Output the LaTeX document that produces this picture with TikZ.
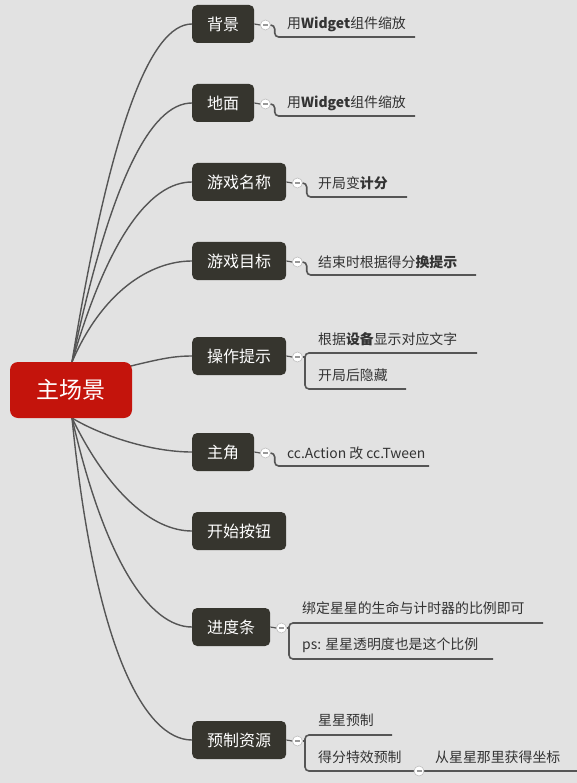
\documentclass[tikz,border=0pt]{standalone}
\usepackage{fontspec}
\setmainfont{Noto Sans CJK SC}
\usetikzlibrary{calc}
\definecolor{bgc}{HTML}{E2E2E2}
\definecolor{topicc}{HTML}{36352E}
\definecolor{rootc}{HTML}{C4140C}
\definecolor{linec}{HTML}{555555}
\definecolor{txtc}{HTML}{333333}
\tikzset{
  topicbox/.style={fill=topicc, text=white, rounded corners=5pt, minimum height=38pt,
    inner xsep=15pt, inner ysep=0pt, anchor=west, font=\fontsize{16}{16}\selectfont},
  rootbox/.style={fill=rootc, text=white, rounded corners=8pt, minimum width=122pt,
    minimum height=56pt, inner sep=0pt, font=\fontsize{23}{23}\selectfont},
  leaf/.style={anchor=west, inner sep=0pt, text=txtc, font=\fontsize{13.9}{14}\selectfont},
  foldc/.style={circle, fill=white, draw=gray!50, line width=0.6pt, minimum size=10pt, inner sep=0pt},
  conn/.style={draw=linec, line width=1.4pt},
  uline/.style={draw=linec, line width=1.6pt, rounded corners=4pt},
}
\begin{document}
\begin{tikzpicture}[x=1pt,y=-1pt]
\fill[bgc] (0,0) rectangle (577,783);
\useasboundingbox (0,0) rectangle (577,783);

% topics
\node[topicbox] (n1) at (192,24) {背景};
\node[topicbox] (n2) at (192,103) {地面};
\node[topicbox] (n3) at (192,182) {游戏名称};
\node[topicbox] (n4) at (192,261) {游戏目标};
\node[topicbox] (n5) at (192,356) {操作提示};
\node[topicbox] (n6) at (192,452) {主角};
\node[topicbox] (n7) at (192,531) {开始按钮};
\node[topicbox] (n8) at (192,627) {进度条};
\node[topicbox] (n9) at (192,740) {预制资源};

% main connectors (drawn behind root)
\coordinate (rt) at (72,362);
\coordinate (rb) at (72,418);
\begin{scope}[conn]
\draw (rt) .. controls (110,129) and (150,24) .. (n1.west);
\draw (rt) .. controls (110,183) and (150,103) .. (n2.west);
\draw (rt) .. controls (108,238) and (150,182) .. (n3.west);
\draw (rt) .. controls (102,292) and (150,261) .. (n4.west);
\draw (72,380) .. controls (150,362) and (165,356) .. (n5.west);
\draw (rb) .. controls (100,435) and (150,452) .. (n6.west);
\draw (rb) .. controls (108,492) and (152,531) .. (n7.west);
\draw (rb) .. controls (105,562) and (150,627) .. (n8.west);
\draw (rb) .. controls (95,650) and (145,740) .. (n9.west);
\end{scope}

\node[rootbox] (root) at (71,390) {主场景};

% fold circles
\foreach \n in {1,...,6,8,9}{
  \node[foldc] (c\n) at ($(n\n.east)+(11,1)$) {};
  \draw[conn, line width=1.2pt] (n\n.east) -- (c\n.west);
}

% leaves
\node[leaf] (l1) at (287,24) {用\textbf{Widget}组件缩放};
\node[leaf] (l2) at (287,103) {用\textbf{Widget}组件缩放};
\node[leaf] (l3) at (318,183) {开局变\textbf{计分}};
\node[leaf] (l4) at (318,262) {结束时根据得分\textbf{换提示}};
\node[leaf] (l5a) at (318,339) {根据\textbf{设备}显示对应文字};
\node[leaf] (l5b) at (318,375) {开局后隐藏};
\node[leaf] (l6) at (287,453) {cc.Action 改 cc.Tween};
\node[leaf] (l8a) at (302,608) {绑定星星的生命与计时器的比例即可};
\node[leaf] (l8b) at (302,645) {ps: 星星透明度也是这个比例};
\node[leaf] (l9a) at (318,720) {星星预制};
\node[leaf] (l9b) at (318,757) {得分特效预制};
\node[leaf] (l9c) at (435,757) {从星星那里获得坐标};

% leaf underlines
\draw[uline] (c1.east) -- ++(4,0) |- (415,37);
\draw[uline] (c2.east) -- ++(4,0) |- (415,116);
\draw[uline] (c3.east) -- ++(4,0) |- (407,197);
\draw[uline] (c4.east) -- ++(4,0) |- (476,275);
\draw[uline] (c6.east) -- ++(4,0) |- (429,466);
% brackets
\draw[uline] (477,353) -- (305,353) -- (305,389) -- (406,389);
\draw[conn, line width=1.2pt] (c5.east) -- (305,357);
\draw[uline] (543,623) -- (289,623) -- (289,659) -- (493,659);
\draw[conn, line width=1.2pt] (c8.east) -- (289,628);
\draw[uline] (392,735) -- (305,735) -- (305,771) -- (577,771);
\draw[conn, line width=1.2pt] (c9.east) -- (305,741);
\node[foldc] (c10) at (419,771) {};

% minus signs
\foreach \n in {1,...,6,8,9,10}{
  \draw[gray!80, line width=1.2pt] ($(c\n.center)+(-2.5,0)$) -- ($(c\n.center)+(2.5,0)$);
}
\end{tikzpicture}
\end{document}
